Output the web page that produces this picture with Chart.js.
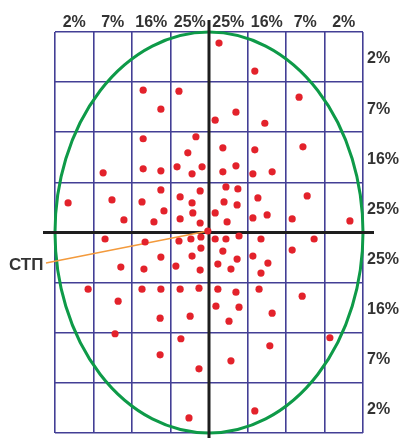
<!DOCTYPE html>
<html>
<head>
<meta charset="utf-8">
<script src="https://cdn.jsdelivr.net/npm/chart.js@4"></script>
<style>
  body { margin: 0; background: #fff; }
  #wrap { position: relative; width: 402px; height: 438px; }
</style>
</head>
<body>
<div id="wrap"><canvas id="HitChart"></canvas></div>
<script>
// config
const colLabels = ['2%', '7%', '16%', '25%', '25%', '16%', '7%', '2%'];
const rowLabels = ['2%', '7%', '16%', '25%', '25%', '16%', '7%', '2%'];
const stpLabel = 'СТП';

// hits, in grid cells from the centre (x right, y up)
const hitX = [0.26, 1.19, -1.71, -0.78, 2.34, -1.25, 0.70, 0.16, 1.45, -1.71, -0.34, 0.36, 1.19, 2.44, -0.55,
  -2.75, -1.71, -1.25, -0.83, -0.44, -0.18, 0.36, 0.70, 1.14, 1.64, -1.25, -0.23, 0.44, 0.75,
  -3.66, -2.52, -1.74, -0.75, -0.44, 0.39, 0.73, 1.27, 2.55, -1.17, -0.42, 0.16, 1.51,
  -2.21, -1.43, -0.75, -0.23, 0.47, 1.14, 2.16, 3.66,
  -2.70, -1.66, -0.78, -0.47, -0.21, 0.16, 0.44, 0.78, 1.35, 2.73, -0.21, 0.36, 2.16,
  -1.25, -0.44, 0.73, 1.14, -2.29, -1.69, -0.86, -0.23, 0.23, 0.57, 1.53, 1.35,
  -3.14, -1.74, -1.25, -0.75, -0.26, 0.23, 0.70, 1.30, 2.42, -2.36, 0.18, 0.78,
  -1.27, -0.49, 0.52, 1.64, -2.44, -0.73, 3.14, 1.58, -1.27, 0.57, -0.26, 1.19, -0.52];
const hitY = [3.78, 3.22, 2.84, 2.82, 2.70, 2.46, 2.40, 2.24, 2.18, 1.87, 1.91, 1.69, 1.65, 1.71, 1.59,
  1.19, 1.27, 1.23, 1.31, 1.17, 1.31, 1.21, 1.33, 1.17, 1.21, 0.85, 0.83, 0.91, 0.87,
  0.59, 0.65, 0.61, 0.71, 0.59, 0.61, 0.55, 0.69, 0.73, 0.43, 0.39, 0.39, 0.35,
  0.25, 0.21, 0.27, 0.19, 0.21, 0.29, 0.27, 0.23,
  -0.13, -0.19, -0.17, -0.13, -0.09, -0.13, -0.13, -0.07, -0.13, -0.13, -0.31, -0.37, -0.35,
  -0.49, -0.47, -0.53, -0.47, -0.69, -0.73, -0.67, -0.75, -0.63, -0.73, -0.61, -0.81,
  -1.13, -1.13, -1.13, -1.13, -1.11, -1.13, -1.19, -1.13, -1.27, -1.37, -1.47, -1.49,
  -1.71, -1.67, -1.77, -1.61, -2.02, -2.12, -2.10, -2.26, -2.44, -2.56, -2.72, -3.56, -3.70];
const stpX = [-0.03];
const stpY = [0.03];

const gridColor = '#433f95';
const textColor = '#333333';
const labelFont = { family: '"Liberation Sans", Arial, sans-serif', size: 16, weight: 'bold' };

const hitPoints = hitX.map((x, i) => ({ x, y: hitY[i] }));
const stpPoints = stpX.map((x, i) => ({ x, y: stpY[i] }));

const cellCentres = [-3.5, -2.5, -1.5, -0.5, 0.5, 1.5, 2.5, 3.5];

const overlay = {
	id: 'overlay',
	beforeDatasetsDraw(chart) {
		const { ctx, chartArea: a, scales: { x, y } } = chart;
		const cx = x.getPixelForValue(0), cy = y.getPixelForValue(0);
		ctx.save();
		// dispersion ellipse
		ctx.strokeStyle = '#0e9a48';
		ctx.lineWidth = 3;
		ctx.beginPath();
		ctx.ellipse(cx, cy, x.getPixelForValue(4) - cx, cy - y.getPixelForValue(4), 0, 0, Math.PI * 2);
		ctx.stroke();
		// axes
		ctx.strokeStyle = '#1e1e1e';
		ctx.lineWidth = 3;
		ctx.beginPath();
		ctx.moveTo(a.left - 12, cy); ctx.lineTo(a.right + 11, cy);
		ctx.moveTo(cx, a.top - 12); ctx.lineTo(cx, chart.height);
		ctx.stroke();
		// leader to the mean point of impact
		const p = stpPoints[0];
		ctx.strokeStyle = '#f39a3c';
		ctx.lineWidth = 1.5;
		ctx.beginPath();
		ctx.moveTo(46, 263);
		ctx.lineTo(x.getPixelForValue(p.x), y.getPixelForValue(p.y));
		ctx.stroke();
		ctx.restore();
	},
	afterDraw(chart) {
		const { ctx } = chart;
		ctx.save();
		ctx.fillStyle = textColor;
		ctx.font = 'bold 17px "Liberation Sans", Arial, sans-serif';
		ctx.textAlign = 'left';
		ctx.textBaseline = 'middle';
		ctx.fillText(stpLabel, 9, 265);
		ctx.restore();
	}
};

document.addEventListener('DOMContentLoaded', () => {
	const ctx = document.getElementById('HitChart').getContext('2d');
	new Chart(ctx, {
		type: 'scatter',
		data: {
			datasets: [{
				label: 'hits',
				data: hitPoints,
				backgroundColor: '#e3222b',
				borderWidth: 0,
				pointRadius: 3.6
			}, {
				label: 'СТП',
				data: stpPoints,
				backgroundColor: '#e3222b',
				borderWidth: 0,
				pointRadius: 3.6
			}]
		},
		options: {
			responsive: true,
			maintainAspectRatio: false,
			animation: false,
			layout: { padding: { left: 55, bottom: 5, top: 0, right: 0 } },
			plugins: { legend: { display: false }, tooltip: { enabled: false } },
			scales: {
				x: {
					type: 'linear', min: -4, max: 4,
					ticks: { stepSize: 1, display: false },
					grid: { color: gridColor, lineWidth: 1.6, drawTicks: false },
					border: { display: false },
					afterFit: s => { s.height = 0; s.paddingLeft = 0; s.paddingRight = 0; }
				},
				y: {
					type: 'linear', min: -4, max: 4,
					ticks: { stepSize: 1, display: false },
					grid: { color: gridColor, lineWidth: 1.6, drawTicks: false },
					border: { display: false },
					afterFit: s => { s.width = 0; s.paddingTop = 0; s.paddingBottom = 0; }
				},
				xTop: {
					type: 'linear', position: 'top', min: -4, max: 4,
					afterBuildTicks: s => { s.ticks = cellCentres.map(v => ({ value: v })); },
					ticks: {
						autoSkip: false, maxRotation: 0, padding: 0,
						color: textColor, font: labelFont,
						callback: (v, i) => colLabels[i]
					},
					grid: { display: false, drawTicks: false },
					border: { display: false },
					afterFit: s => { s.height = 32; s.paddingLeft = 0; s.paddingRight = 0; }
				},
				yRight: {
					type: 'linear', position: 'right', min: -4, max: 4,
					afterBuildTicks: s => { s.ticks = cellCentres.map(v => ({ value: v })); },
					ticks: {
						autoSkip: false, padding: 4, labelOffset: 2,
						color: textColor, font: labelFont,
						callback: (v, i) => rowLabels[rowLabels.length - 1 - i]
					},
					grid: { display: false, drawTicks: false },
					border: { display: false },
					afterFit: s => { s.width = 39; s.paddingTop = 0; s.paddingBottom = 0; }
				}
			}
		},
		plugins: [overlay]
	});
});
</script>
</body>
</html>
